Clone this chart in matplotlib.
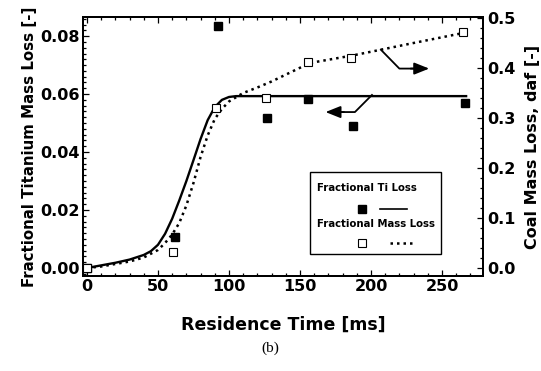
import matplotlib
matplotlib.use('Agg')
import matplotlib.pyplot as plt
from matplotlib.ticker import MultipleLocator
from matplotlib.lines import Line2D
from matplotlib.patches import Rectangle

# measured points
ti_time = [0, 62, 92, 127, 156, 187, 266]
ti_loss = [0.0, 0.0107, 0.0834, 0.0517, 0.0583, 0.049, 0.0569]
mass_time = [0, 60.5, 91, 126, 156, 186, 265]
mass_loss = [0.0, 0.032, 0.32, 0.34, 0.412, 0.42, 0.472]

# model curves
ti_model_t = [0, 10, 20, 30, 40, 45, 50, 55, 60, 65, 70, 75, 80, 85, 90, 95, 100, 105, 110, 267]
ti_model = [0.0, 0.0009, 0.0018, 0.0029, 0.0045, 0.0058, 0.0080, 0.0118, 0.0170, 0.0233,
            0.0300, 0.0372, 0.0445, 0.0510, 0.0555, 0.0580, 0.0590, 0.0593, 0.0593, 0.0593]
mass_model_t = [0, 10, 20, 30, 40, 50, 55, 60, 65, 70, 75, 80, 85, 90, 95, 100, 110,
                120, 130, 157, 187, 206, 230, 265]
mass_model = [0.0, 0.003, 0.008, 0.013, 0.021, 0.036, 0.05, 0.067, 0.09, 0.125, 0.17,
              0.222, 0.265, 0.298, 0.318, 0.333, 0.35, 0.361, 0.373, 0.41, 0.425, 0.436,
              0.45, 0.47]

plt.rcParams['font.family'] = 'DejaVu Sans'
plt.rcParams['font.weight'] = 'bold'

fig = plt.figure(figsize=(5.41, 3.71), dpi=100)
ax = fig.add_axes([0.1534, 0.2561, 0.7394, 0.6981])
ax2 = ax.twinx()

dots = (0, (1, 1.6))
ax.plot(ti_model_t, ti_model, color='k', lw=1.7, zorder=3)
ax2.plot(mass_model_t, mass_model, color='k', lw=1.8, linestyle=dots, zorder=3)
ax.plot(ti_time, ti_loss, 's', color='k', ms=5.5, zorder=4)
ax2.plot(mass_time, mass_loss, 's', mfc='white', mec='k', mew=0.8, ms=5.5, zorder=4)

ax.set_xlim(-2.8, 278.9)
ax.set_ylim(-0.00276, 0.0866)
ax2.set_ylim(-0.016, 0.502)

ax.xaxis.set_major_locator(MultipleLocator(50))
ax.xaxis.set_minor_locator(MultipleLocator(10))
ax.yaxis.set_major_locator(MultipleLocator(0.02))
ax.yaxis.set_minor_locator(MultipleLocator(0.002))
ax2.yaxis.set_major_locator(MultipleLocator(0.1))
ax2.yaxis.set_minor_locator(MultipleLocator(0.02))
ax.yaxis.set_major_formatter(plt.FormatStrFormatter('%.2f'))
ax2.yaxis.set_major_formatter(plt.FormatStrFormatter('%.1f'))

ax.tick_params(which='both', direction='in', top=True, right=False, width=0.9,
               labelsize=11.5, pad=2)
ax.tick_params(which='major', length=4.5)
ax.tick_params(which='minor', length=2.2)
ax2.tick_params(which='both', direction='in', width=0.9, labelsize=11.5, pad=3)
ax2.tick_params(which='major', length=4.5)
ax2.tick_params(which='minor', length=2.2)
for a in (ax, ax2):
    for s in a.spines.values():
        s.set_linewidth(1.4)
    for lab in a.get_xticklabels() + a.get_yticklabels():
        lab.set_fontweight('bold')

ax.set_xlabel('Residence Time [ms]', fontsize=12.5, fontweight='bold', labelpad=16)
ax.set_ylabel('Fractional Titanium Mass Loss [-]', fontsize=10.8, fontweight='bold', labelpad=3)
ax2.set_ylabel('Coal Mass Loss, daf [-]', fontsize=11.5, fontweight='bold', labelpad=7)

# pointer arrows
arrow_kw = dict(arrowstyle='-|>,head_length=0.7,head_width=0.28', mutation_scale=13,
                color='k', lw=1.3, shrinkA=0, shrinkB=0)
ax.plot([207, 220, 230], [0.0753, 0.0688, 0.0688], color='k', lw=1.3)
ax.annotate('', xy=(241, 0.0688), xytext=(228, 0.0688), arrowprops=arrow_kw)
ax.plot([200.7, 188.7, 179], [0.0597, 0.0538, 0.0538], color='k', lw=1.3)
ax.annotate('', xy=(168, 0.0538), xytext=(181, 0.0538), arrowprops=arrow_kw)

# legend box
T = ax.transAxes
ax.add_patch(Rectangle((0.5675, 0.085), 0.3275, 0.3165, transform=T, fill=False,
                       lw=1.0, ec='k', zorder=5))
ax.text(0.585, 0.34, 'Fractional Ti Loss', transform=T, fontsize=7.3,
        fontweight='bold', va='center', zorder=6)
ax.add_line(Line2D([0.6975], [0.2587], transform=T, marker='s', color='k', ms=5.5, zorder=6))
ax.add_line(Line2D([0.7425, 0.81], [0.2587, 0.2587], transform=T, color='k', lw=1.2, zorder=6))
ax.text(0.585, 0.20, 'Fractional Mass Loss', transform=T, fontsize=7.3,
        fontweight='bold', va='center', zorder=6)
ax.add_line(Line2D([0.6975], [0.127], transform=T, marker='s', mfc='white', mec='k',
                   mew=0.8, ms=5.5, zorder=6))
ax.add_line(Line2D([0.7675, 0.825], [0.127, 0.127], transform=T, color='k', lw=1.8,
                   linestyle=dots, zorder=6))

fig.text(270 / 541, 1 - 348 / 371, '(b)', fontsize=11, fontweight='normal',
         family='Liberation Serif', ha='center', va='center')

fig.savefig('out.png', dpi=100)
